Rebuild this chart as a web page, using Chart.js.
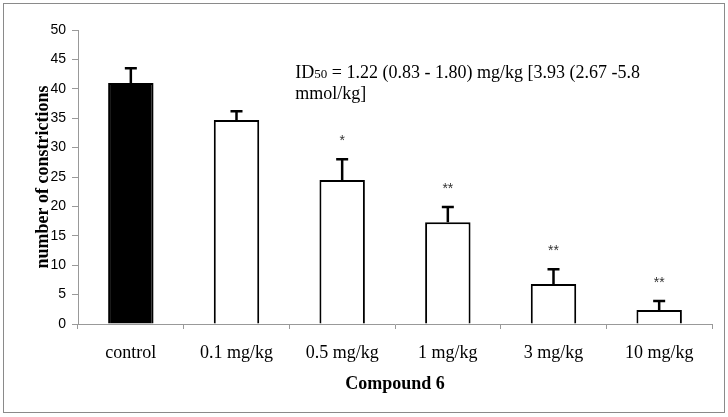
<!DOCTYPE html>
<html>
<head>
<meta charset="utf-8">
<script src="https://cdn.jsdelivr.net/npm/chart.js@4"></script>
<style>
  html, body { margin: 0; padding: 0; background: #fff; }
  #wrap { width: 728px; height: 417px; }
</style>
</head>
<body>
<div id="wrap"><canvas id="grafico" width="728" height="417"></canvas></div>
<script>
// datos
const categorias = ['control', '0.1 mg/kg', '0.5 mg/kg', '1 mg/kg', '3 mg/kg', '10 mg/kg'];
const medias = [41.0, 34.7, 24.5, 17.3, 6.8, 2.4];
const errores = [2.5, 1.5, 3.5, 2.6, 2.5, 1.5];
const estrellas = ['', '', '*', '**', '**', '**'];
const rellenos = ['#000000', '#ffffff', '#ffffff', '#ffffff', '#ffffff', '#ffffff'];
const yMin = 0, yMax = 50, yPaso = 5;

const serif = '"Liberation Serif", "Times New Roman", serif';
const sans = '"Liberation Sans", Arial, sans-serif';

// barras de error + asteriscos
const barrasError = {
    id: 'barrasError',
    afterDatasetsDraw(chart) {
        const ctx = chart.ctx;
        const meta = chart.getDatasetMeta(0);
        const y = chart.scales.y;
        ctx.save();
        meta.data.forEach(function (bar, i) {
            const top = y.getPixelForValue(medias[i] + errores[i]);
            ctx.strokeStyle = '#000';
            ctx.lineWidth = 2.5;
            ctx.beginPath();
            ctx.moveTo(bar.x, bar.y);
            ctx.lineTo(bar.x, top);
            ctx.moveTo(bar.x - 6, top);
            ctx.lineTo(bar.x + 6, top);
            ctx.stroke();
            if (estrellas[i]) {
                ctx.fillStyle = '#333';
                ctx.font = '14px ' + sans;
                ctx.textAlign = 'center';
                ctx.textBaseline = 'middle';
                ctx.fillText(estrellas[i], bar.x, top - 18);
            }
        });
        ctx.restore();
    }
};

// texto ID50 y marco
const anotacion = {
    id: 'anotacion',
    afterDraw(chart) {
        const ctx = chart.ctx;
        const x = chart.scales.x, y = chart.scales.y;
        let px = (x.getPixelForValue(1) + x.getPixelForValue(2)) / 2 + 6;
        const py = y.getPixelForValue(41.8);
        ctx.save();
        ctx.fillStyle = '#000';
        ctx.textAlign = 'left';
        ctx.textBaseline = 'alphabetic';
        ctx.font = '18px ' + serif;
        ctx.fillText('ID', px, py);
        px += ctx.measureText('ID').width;
        ctx.font = '13px ' + serif;
        ctx.fillText('50', px, py);
        px += ctx.measureText('50').width;
        ctx.font = '18px ' + serif;
        ctx.fillText(' = 1.22 (0.83 - 1.80) mg/kg [3.93 (2.67 -5.8', px, py);
        ctx.fillText('mmol/kg]', (x.getPixelForValue(1) + x.getPixelForValue(2)) / 2 + 6, py + 21);
        ctx.strokeStyle = '#8a8a8a';
        ctx.lineWidth = 1;
        ctx.strokeRect(3.5, 3.5, 721, 409);
        ctx.restore();
    }
};

const graph = document.querySelector('#grafico');

new Chart(graph, {
    type: 'bar',
    data: {
        labels: categorias,
        datasets: [{
            data: medias,
            backgroundColor: rellenos,
            borderColor: '#000',
            borderWidth: 2,
            barPercentage: 0.43,
            categoryPercentage: 1
        }]
    },
    options: {
        responsive: false,
        animation: false,
        devicePixelRatio: 1,
        layout: { padding: { top: 30, left: 33, right: 16, bottom: 22 } },
        plugins: { legend: { display: false }, tooltip: { enabled: false } },
        scales: {
            x: {
                afterFit: function (s) { s.height = 71; },
                grid: { drawOnChartArea: false, tickLength: 5, color: '#999', offset: true },
                border: { color: '#999', width: 1 },
                ticks: { color: '#000', font: { family: serif, size: 18 }, padding: 13 },
                title: {
                    display: true, text: 'Compound 6', color: '#000',
                    font: { family: serif, size: 18, weight: 'bold' }, padding: 0
                }
            },
            y: {
                min: yMin, max: yMax,
                afterFit: function (s) { s.width = 45; },
                grid: { drawOnChartArea: false, tickLength: 6, color: '#999' },
                border: { color: '#999', width: 1 },
                ticks: { stepSize: yPaso, color: '#000', font: { family: sans, size: 14 }, padding: 6 },
                title: {
                    display: true, text: 'number of constrictions', color: '#000',
                    font: { family: serif, size: 18, weight: 'bold' }, padding: 0
                }
            }
        }
    },
    plugins: [barrasError, anotacion]
});
</script>
</body>
</html>
